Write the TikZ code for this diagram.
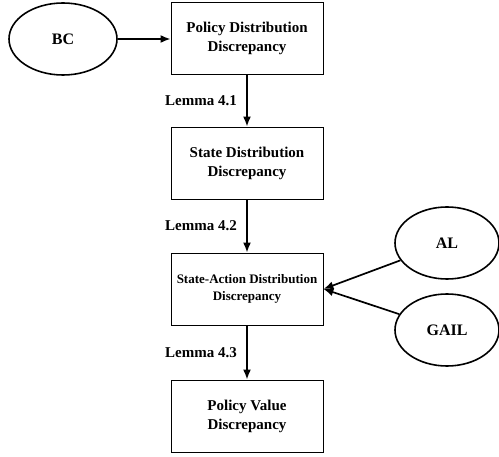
\documentclass[tikz,border=0pt]{standalone}
\usepackage{fontspec}
\setmainfont{Liberation Serif}
\usetikzlibrary{shapes.geometric, arrows.meta}

\begin{document}
\begin{tikzpicture}[x=1pt, y=-1pt,
    block/.style={draw=black, line width=0.9pt, minimum width=152pt, minimum height=72pt,
      align=center, font=\fontsize{15}{19}\selectfont\bfseries},
    method/.style={draw=black, ellipse, line width=1.6pt, minimum width=108pt, minimum height=72pt,
      font=\fontsize{16}{18}\selectfont\bfseries},
    lemma/.style={font=\fontsize{15}{18}\selectfont\bfseries},
    link/.style={-{Latex[length=10pt, width=8pt]}, line width=1.7pt, black}]
      \useasboundingbox (0,0) rectangle (499,457);

      \node[block] (policy) at (247,38) {Policy Distribution\\Discrepancy};
      \node[block] (state) at (247,163) {State Distribution\\Discrepancy};
      \node[block, font=\fontsize{13}{17}\selectfont\bfseries] (stateaction) at (247,289) {State-Action Distribution\\Discrepancy};
      \node[block] (value) at (247,416) {Policy Value\\Discrepancy};

      \node[method] (bc) at (63,39) {BC};
      \node[method, minimum width=104pt] (al) at (447,243) {AL};
      \node[method, minimum width=104pt] (gail) at (447,330) {GAIL};

      \draw[link] (bc) -- (policy.west |- bc);
      \draw[link] (policy) -- node [lemma, left=6pt] (lem1) {Lemma 4.1} (state);
      \draw[link] (state) -- node [lemma, left=6pt] (lem2) {Lemma 4.2} (stateaction);
      \draw[link] (stateaction) -- node [lemma, left=6pt] (lem3) {Lemma 4.3} (value);

      \draw[link] (al) -- (stateaction.east);
      \draw[link] (gail) -- (stateaction.east);
    \end{tikzpicture}
\end{document}
